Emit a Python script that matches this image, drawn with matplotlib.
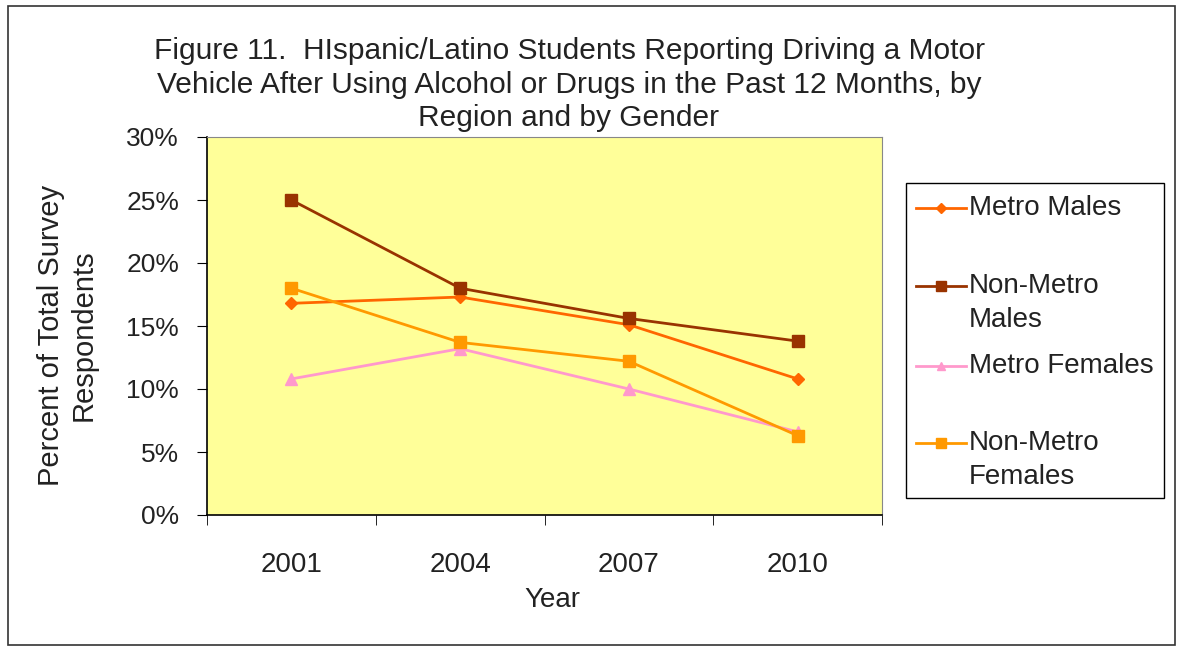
import matplotlib
matplotlib.use("Agg")
import matplotlib.pyplot as plt
from matplotlib.lines import Line2D
from matplotlib.patches import Rectangle

years = ["2001", "2004", "2007", "2010"]
metro_males = [16.8, 17.3, 15.1, 10.8]
nonmetro_males = [25.0, 18.0, 15.6, 13.8]
metro_females = [10.8, 13.2, 10.0, 6.6]
nonmetro_females = [18.0, 13.7, 12.2, 6.3]
y_ticks = [0, 5, 10, 15, 20, 25, 30]
y_labels = ["0%", "5%", "10%", "15%", "20%", "25%", "30%"]
title_lines = [
    "Figure 11.  HIspanic/Latino Students Reporting Driving a Motor",
    "Vehicle After Using Alcohol or Drugs in the Past 12 Months, by",
    "Region and by Gender",
]

series = [
    ("Metro Males", metro_males, "#FF6600", "D", 6),
    ("Non-Metro\nMales", nonmetro_males, "#993300", "s", 9),
    ("Metro Females", metro_females, "#FF99CC", "^", 8),
    ("Non-Metro\nFemales", nonmetro_females, "#FF9900", "s", 9),
]

plt.rcParams['font.family'] = ['Liberation Sans', 'DejaVu Sans']
TXT = "#222222"
W, H = 1183, 648
fig = plt.figure(figsize=(W / 100, H / 100), dpi=100)
fig.patch.set_facecolor("white")
fig.add_artist(Rectangle((8 / W, 1 - 645 / H), (1175 - 8) / W, (645 - 6) / H,
                         transform=fig.transFigure, fill=False, edgecolor="#333333", lw=1.2))

ax = fig.add_axes([207 / W, 1 - 515 / H, (882 - 207) / W, (515 - 137) / H])
ax.set_facecolor("#FFFF99")
x = list(range(len(years)))
for label, vals, color, marker, ms in series:
    ax.plot(x, vals, color=color, marker=marker, markersize=ms, lw=2, label=label)

ax.set_xlim(-0.5, len(years) - 0.5)
ax.set_ylim(0, 30)
ax.set_yticks(y_ticks)
ax.set_yticklabels(y_labels, fontsize=19, color=TXT)
ax.set_xticks(x)
ax.set_xticklabels(years, fontsize=20, color=TXT)
ax.tick_params(axis='x', length=0, pad=27)
ax.set_xticks([i - 0.5 for i in range(len(years) + 1)], minor=True)
ax.tick_params(axis='x', which='minor', length=7, direction='out', color='black')
ax.tick_params(axis='y', length=7, direction='out', pad=13)
for s in ["top", "right"]:
    ax.spines[s].set_color("#888888")
for s in ["left", "bottom"]:
    ax.spines[s].set_color("black")
    ax.spines[s].set_linewidth(1.2)

fig.text(552 / W, 1 - 600 / H, "Year", ha="center", va="center", fontsize=20, color=TXT)
fig.text(67 / W, 1 - 335 / H, "Percent of Total Survey\nRespondents", ha="center",
         va="center", rotation=90, fontsize=21, color=TXT, multialignment="center",
         linespacing=1.2)

for yy, t in zip([51, 85, 118], title_lines):
    fig.text(569 / W, 1 - yy / H, t, ha="center", va="center", fontsize=21.5, color=TXT)

# legend box
fig.add_artist(Rectangle((906 / W, 1 - 498 / H), (1164 - 906) / W, (498 - 183) / H,
                         transform=fig.transFigure, fill=False, edgecolor="black", lw=1))
rows = [208, 286, 366, 443]
for (label, vals, color, marker, ms), yy in zip(series, rows):
    yf = 1 - yy / H
    fig.add_artist(Line2D([916 / W, 966 / W], [yf, yf], transform=fig.transFigure,
                          color=color, lw=2))
    fig.add_artist(Line2D([941 / W], [yf], transform=fig.transFigure, color=color,
                          marker=marker, markersize=ms * 0.8))
    for k, t in enumerate(label.split("\n")):
        fig.text(969 / W, 1 - (yy + 34 * k) / H, t, ha="left", va="center",
                 fontsize=20, color=TXT)

fig.savefig("out.png", dpi=100)
